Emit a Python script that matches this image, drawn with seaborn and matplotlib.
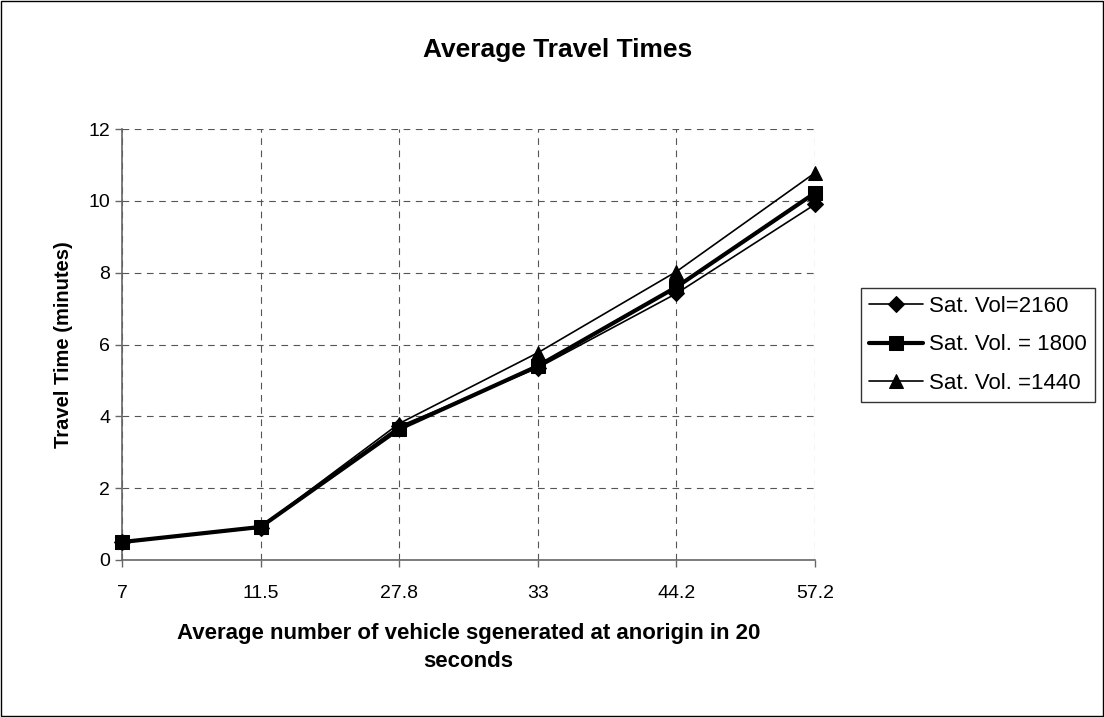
import matplotlib
matplotlib.use("Agg")
import matplotlib.pyplot as plt
from matplotlib.patches import Rectangle
import seaborn as sns
import pandas as pd
import numpy as np

# Vehicles generated per origin in 20 s (category labels on the x axis)
categories = ["7", "11.5", "27.8", "33", "44.2", "57.2"]

# Average travel time (minutes) for each saturation volume
sat_2160 = [0.5, 0.9, 3.72, 5.35, 7.42, 9.9]
sat_1800 = [0.5, 0.92, 3.65, 5.4, 7.6, 10.22]
sat_1440 = [0.5, 0.92, 3.8, 5.77, 8.03, 10.78]

series_names = ["Sat. Vol=2160", "Sat. Vol. = 1800", "Sat. Vol. =1440"]
series_values = [sat_2160, sat_1800, sat_1440]

sns.set_theme(style="white")
plt.rcParams["font.family"] = ["Liberation Sans", "DejaVu Sans"]
plt.rcParams["text.color"] = "black"
plt.rcParams["axes.labelcolor"] = "black"

rows = []
for name, vals in zip(series_names, series_values):
    for i, (cat, v) in enumerate(zip(categories, vals)):
        rows.append({"pos": i, "category": cat, "series": name, "time": v})
df = pd.DataFrame(rows)

fig = plt.figure(figsize=(11.04, 7.17), dpi=100)
fig.patch.set_facecolor("white")
ax = fig.add_axes([122 / 1104, 1 - 560 / 717, (815 - 122) / 1104, (560 - 129) / 717])

styles = {
    "Sat. Vol=2160": dict(marker="D", linewidth=1.2, markersize=8.5),
    "Sat. Vol. = 1800": dict(marker="s", linewidth=3.0, markersize=9.5),
    "Sat. Vol. =1440": dict(marker="^", linewidth=1.2, markersize=10.5),
}
for name in series_names:
    sub = df[df["series"] == name]
    sns.lineplot(data=sub, x="pos", y="time", ax=ax, color="black",
                 markeredgecolor="black", label=name, sort=False,
                 clip_on=False, zorder=3, **styles[name])

ax.set_xlim(0, len(categories) - 1)
ax.set_ylim(0, 12)
ax.set_xticks(range(len(categories)))
ax.set_xticklabels(categories)
ax.set_yticks(np.arange(0, 13, 2))

ax.grid(True, color="#555555", linestyle=(0, (6, 5)), linewidth=0.8)
ax.set_axisbelow(True)
for side in ["top", "right"]:
    ax.spines[side].set_visible(False)
for side in ["left", "bottom"]:
    ax.spines[side].set_color("#666666")
    ax.spines[side].set_linewidth(1.2)

ax.tick_params(axis="both", which="major", labelsize=14, length=5,
               width=1, color="#666666", labelcolor="black", direction="out",
               bottom=True, left=True)
ax.tick_params(axis="x", pad=13)

ax.set_xlabel("Average number of vehicle sgenerated at anorigin in 20\nseconds",
              fontsize=16, fontweight="bold", labelpad=15, linespacing=1.45)
ax.set_ylabel("Travel Time (minutes)", fontsize=14.5, fontweight="bold",
              labelpad=11)

fig.text(558 / 1104, 1 - 50 / 717, "Average Travel Times", fontsize=19,
         fontweight="bold", ha="center", va="center")

leg = ax.legend(loc="center left", bbox_to_anchor=(861 / 1104, 1 - 345 / 717),
                bbox_transform=fig.transFigure, frameon=True, fancybox=False,
                fontsize=16, handlelength=2.45, handletextpad=0.28,
                borderpad=0.35, labelspacing=0.8, borderaxespad=0)
leg.get_frame().set_edgecolor("black")
leg.get_frame().set_linewidth(1.0)

# Chart-area border
fig.patches.append(Rectangle((0.001, 0.001), 0.998, 0.998, transform=fig.transFigure,
                             fill=False, edgecolor="black", linewidth=1.0))

fig.savefig("out.png", dpi=100, facecolor="white")
